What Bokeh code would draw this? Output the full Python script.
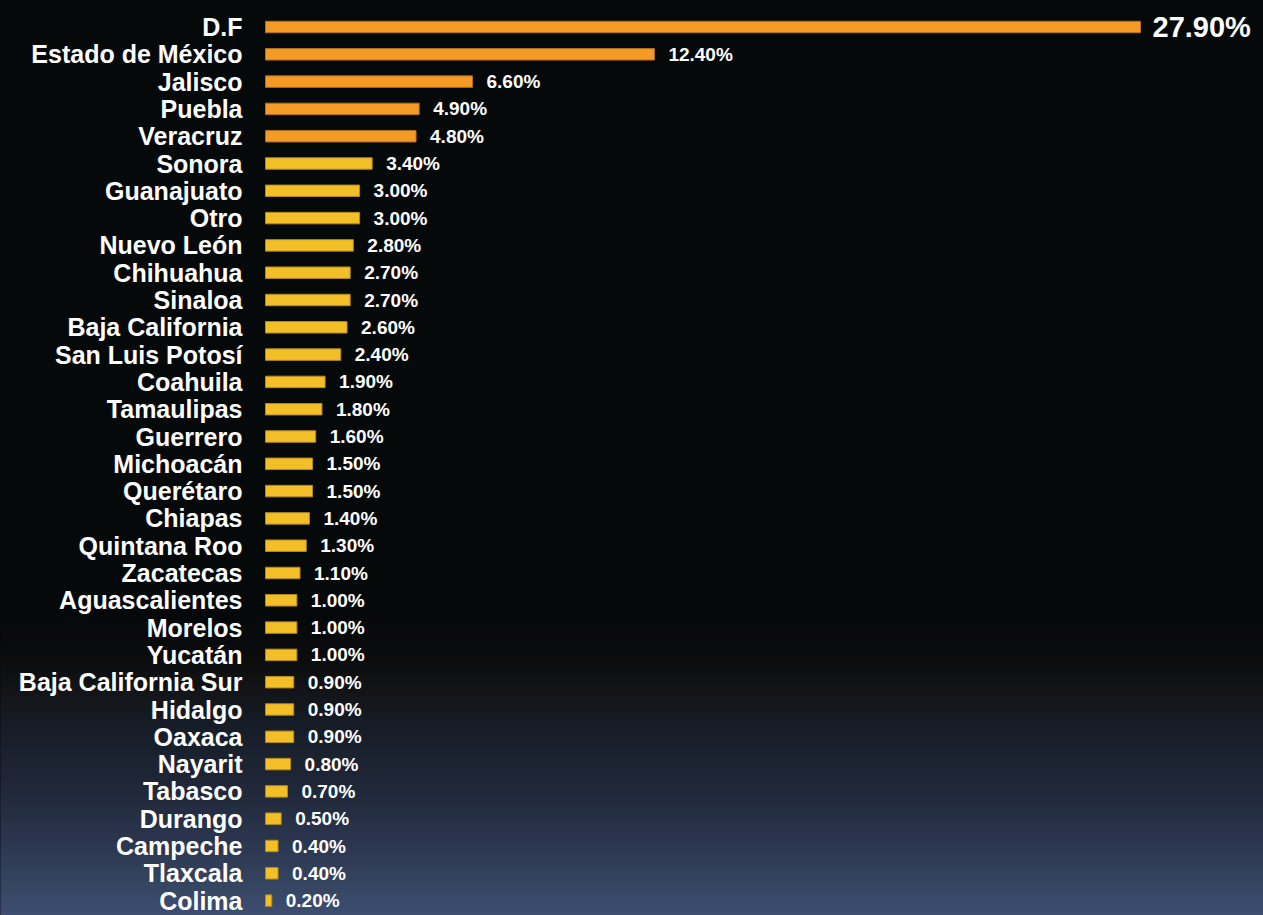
from bokeh.plotting import figure
from bokeh.models import Range1d, ColumnDataSource, BoxAnnotation
from bokeh.embed import file_html
from bokeh.resources import INLINE
from bokeh.core.properties import value

states = ["D.F", "Estado de México", "Jalisco", "Puebla", "Veracruz", "Sonora",
          "Guanajuato", "Otro", "Nuevo León", "Chihuahua", "Sinaloa",
          "Baja California", "San Luis Potosí", "Coahuila", "Tamaulipas",
          "Guerrero", "Michoacán", "Querétaro", "Chiapas", "Quintana Roo",
          "Zacatecas", "Aguascalientes", "Morelos", "Yucatán",
          "Baja California Sur", "Hidalgo", "Oaxaca", "Nayarit", "Tabasco",
          "Durango", "Campeche", "Tlaxcala", "Colima"]
percent = [27.9, 12.4, 6.6, 4.9, 4.8, 3.4, 3.0, 3.0, 2.8, 2.7, 2.7, 2.6, 2.4,
           1.9, 1.8, 1.6, 1.5, 1.5, 1.4, 1.3, 1.1, 1.0, 1.0, 1.0, 0.9, 0.9,
           0.9, 0.8, 0.7, 0.5, 0.4, 0.4, 0.2]

W, H = 1263, 915
px_per_unit = 875 / 27.9
left_px = 265
row_px = 27.3
first_row_px = 26.5

x_start = -left_px / px_per_unit
x_end = (W - left_px) / px_per_unit
y_top = -first_row_px / row_px
y_bottom = (H - first_row_px) / row_px

p = figure(width=W, height=H, output_backend="svg", toolbar_location=None,
           x_range=Range1d(x_start, x_end), y_range=Range1d(y_bottom, y_top),
           min_border=0)
p.xaxis.visible = False
p.yaxis.visible = False
p.grid.visible = False
p.outline_line_color = None
p.background_fill_color = "#06090a"
p.border_fill_color = "#06090a"

# background gradient (decoration)
stops = [(0, "#06090a"), (615, "#06090a"), (655, "#0b0b0c"), (695, "#131519"),
         (725, "#161d27"), (785, "#1f2738"), (845, "#2c3750"),
         (885, "#364560"), (915, "#3d4e72"), (960, "#3f5075")]

def hex2rgb(h):
    return tuple(int(h[i:i + 2], 16) for i in (1, 3, 5))

def color_at(y):
    for (y0, c0), (y1, c1) in zip(stops[:-1], stops[1:]):
        if y0 <= y <= y1:
            t = (y - y0) / (y1 - y0) if y1 > y0 else 0
            a, b = hex2rgb(c0), hex2rgb(c1)
            return "#%02x%02x%02x" % tuple(round(a[k] + (b[k] - a[k]) * t) for k in range(3))
    return stops[-1][1]

def page_to_data(py):
    return (py - first_row_px) / row_px

step = 4
for py in range(600, 960, step):
    p.add_layout(BoxAnnotation(top=page_to_data(py), bottom=page_to_data(py + step + 0.5),
                               fill_color=color_at(py + step / 2), fill_alpha=1.0,
                               line_color=None, level="underlay"))

idx = list(range(len(states)))
colors = ["#f39b26" if i < 5 else "#f3bf29" for i in idx]
edge = ["#b36f1c" if i < 5 else "#b38a1e" for i in idx]
labels = ["%.2f%%" % v for v in percent]

src = ColumnDataSource(dict(y=idx, v=percent, state=states, color=colors,
                            edge=edge, label=labels, zero=[0] * len(idx)))

p.hbar(y="y", left=0, right="v", height=0.42, fill_color="color",
       line_color="edge", line_width=1, source=src)

p.text(x="zero", y="y", text="state", source=src, x_offset=-23,
       text_align="right", text_baseline="middle", text_color="white",
       text_font=value("Liberation Sans"), text_font_style="bold",
       text_font_size="25px")

src_rest = ColumnDataSource(dict(y=idx[1:], v=percent[1:], label=labels[1:]))
p.text(x="v", y="y", text="label", source=src_rest, x_offset=14,
       text_align="left", text_baseline="middle", text_color="white",
       text_font=value("Liberation Sans"), text_font_style="bold",
       text_font_size="19px")

src_top = ColumnDataSource(dict(y=idx[:1], v=percent[:1], label=labels[:1]))
p.text(x="v", y="y", text="label", source=src_top, x_offset=12,
       text_align="left", text_baseline="middle", text_color="white",
       text_font=value("Liberation Sans"), text_font_style="bold",
       text_font_size="29px")

html = file_html(p, INLINE)
css = ("<style>html,body{background:linear-gradient(to bottom," +
       ",".join("%s %dpx" % (c, y) for y, c in stops) +
       ") no-repeat;background-color:#3f5075;}</style>")
html = html.replace("</head>", css + "</head>", 1)
open("out.html", "w").write(html)
